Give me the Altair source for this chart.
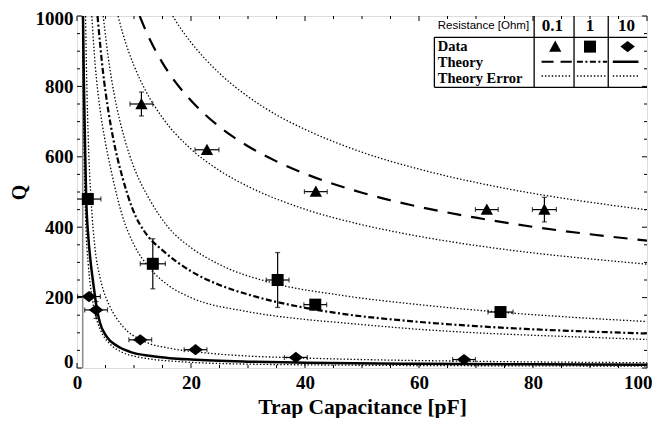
import altair as alt
import pandas as pd

# ---------------- measured data (Resistance 0.1, 1, 10 Ohm) ----------------
r01_c = [11.3, 22.8, 41.9, 71.9, 82.0]
r01_q = [750, 620, 501, 450, 450]
r01_cerr = [2.0, 2.1, 2.0, 2.0, 2.1]
r01_qerr = [34, 4, 4, 4, 35]

r1_c = [1.9, 13.3, 35.2, 41.8, 74.3]
r1_q = [480, 296, 250, 180, 159]
r1_cerr = [2.3, 2.2, 2.0, 2.0, 2.2]
r1_qerr = [4, 71, 78, 4, 4]

r10_c = [2.1, 3.35, 11.1, 20.8, 38.4, 67.9]
r10_q = [203, 165, 80, 52, 30, 24]
r10_cerr = [2.0, 2.0, 2.0, 2.0, 2.0, 2.0]
r10_qerr = [4, 24, 4, 4, 4, 4]

# ---------------- theory curves ----------------
th01_c = [11, 12, 14, 16, 20, 25, 30, 35, 40, 50, 60, 70, 80, 90, 100]
th01_q = [1000, 961, 895, 841, 760, 685, 630, 587, 552, 498, 458, 427, 401, 380, 362]
up01_c = [16.8, 18, 20, 25, 30, 35, 40, 50, 60, 70, 80, 90, 100]
up01_q = [1000, 969, 925, 837, 771, 719, 678, 613, 565, 527, 496, 471, 449]
lo01_c = [7.2, 8, 10, 12, 15, 20, 25, 30, 40, 50, 60, 70, 80, 90, 100]
lo01_q = [1000, 952, 859, 789, 711, 622, 561, 516, 451, 407, 374, 348, 327, 310, 295]

th1_c = [3.6, 4.5, 5.5, 6.4, 8, 9.6, 12.5, 14.6, 20, 25, 30.4, 40, 46.1, 60, 70, 80, 90, 100]
th1_q = [1000, 850, 730, 648, 540, 458, 373, 340, 275, 236, 207, 171, 155, 131, 119, 110, 103.5, 98]
up1_c = [4.6, 5.5, 6.5, 8.4, 10, 12.8, 16, 20, 25, 34.7, 46.1, 60, 74, 87, 100]
up1_q = [1000, 880, 780, 648, 570, 477, 400, 342, 294, 240, 207, 180, 159, 144, 132]
lo1_c = [2.6, 3.2, 4.0, 4.9, 6, 8, 10, 12.8, 16, 20, 30, 40, 46.1, 60, 70, 80, 90, 100]
lo1_q = [1000, 860, 740, 648, 560, 430, 350, 283, 235, 200, 160, 138, 129, 110, 100, 93, 87, 81]

th10_c = [1.05, 1.2, 1.4, 1.6, 2.0, 2.4, 2.86, 3.45, 4.0, 5.2, 7.0, 9.3, 13, 16.3, 20, 30, 40, 60, 80, 100]
th10_q = [1000, 820, 640, 490, 370, 300, 240, 172, 130, 89, 63, 46, 34, 28, 24, 18, 15, 12, 10.5, 9.5]
up10_c = [1.5, 1.7, 2.0, 2.5, 3.16, 4.0, 4.6, 5.8, 8.1, 11.6, 16.3, 20.8, 30, 38.4, 50, 70, 100]
up10_q = [1000, 820, 640, 470, 340, 260, 222, 174, 117, 77, 56, 46, 34, 29, 24, 19, 15]
lo10_c = [1.0, 1.1, 1.25, 1.5, 2.0, 2.5, 2.9, 3.5, 4.5, 5.8, 8, 10.5, 13, 16.3, 20, 30, 40, 60, 80, 100]
lo10_q = [1000, 800, 600, 430, 290, 215, 175, 135, 95, 68, 44, 32, 25, 20, 16, 11, 9, 7, 6, 5.5]

pole_c = [1.0]

# ---------------- axis ticks ----------------
x_major = [0, 20, 40, 60, 80, 100]
x_minor = [v for v in range(5, 100, 5) if v % 20]
y_major = [0, 200, 400, 600, 800, 1000]
y_minor = [v for v in range(50, 1000, 50) if v % 200]

# ---------------- legend table ----------------
leg_cols = ["0.1", "1", "10"]
leg_col_c = [83.4, 90.0, 96.4]
leg_rows = ["Data", "Theory", "Theory Error"]
leg_row_q = [913, 867, 822]

W, H = 570, 352
xs = alt.Scale(domain=[0, 100], nice=False, zero=False)
ys = alt.Scale(domain=[0, 1000], nice=False, zero=False)
SERIF = "Liberation Serif"

XAXIS = alt.Axis(
    values=x_major, title="Trap Capacitance [pF]", ticks=False, domain=False, grid=False,
    labelFont=SERIF, labelFontSize=19, labelFontWeight="bold", labelColor="black",
    labelPadding=5, labelFlush=False, labelOverlap=False, format="d",
    labelAlign={"expr": "datum.value == 100 ? 'right' : 'center'"},
    labelOffset={"expr": "datum.value == 100 ? 5 : 0"},
    titleFont=SERIF, titleFontSize=21.5, titleFontWeight="bold", titleColor="black",
    titlePadding=4)
YAXIS = alt.Axis(
    values=y_major, title="Q", ticks=False, domain=False, grid=False,
    labelFont=SERIF, labelFontSize=19, labelFontWeight="bold", labelColor="black",
    labelPadding=4, labelFlush=False, labelOverlap=False, format="d",
    labelOffset={"expr": "datum.value == 0 ? -7 : (datum.value == 1000 ? 2 : 0)"},
    titleFont=SERIF, titleFontSize=20, titleFontWeight="bold", titleColor="black",
    titlePadding=6)


def XF(f):
    return alt.X(f"{f}:Q", scale=xs, axis=XAXIS)


def YF(f):
    return alt.Y(f"{f}:Q", scale=ys, axis=YAXIS)


def pts(c, q, ce, qe, name):
    return pd.DataFrame({
        "c": c, "q": q,
        "clo": [a - b for a, b in zip(c, ce)], "chi": [a + b for a, b in zip(c, ce)],
        "qlo": [a - b for a, b in zip(q, qe)], "qhi": [a + b for a, b in zip(q, qe)],
        "s": name,
    })


p01 = pts(r01_c, r01_q, r01_cerr, r01_qerr, "0.1")
p1 = pts(r1_c, r1_q, r1_cerr, r1_qerr, "1")
p10 = pts(r10_c, r10_q, r10_cerr, r10_qerr, "10")
allp = pd.concat([p01, p1, p10])


def curve(c, q, name):
    return pd.DataFrame({"c": c, "q": q, "k": name})


dotted_df = pd.concat([curve(up01_c, up01_q, "u01"), curve(lo01_c, lo01_q, "l01"),
                       curve(up1_c, up1_q, "u1"), curve(lo1_c, lo1_q, "l1"),
                       curve(up10_c, up10_q, "u10"), curve(lo10_c, lo10_q, "l10")])

# base layer: pole line + both axes
base = alt.Chart(pd.DataFrame({"c": pole_c, "q1": [0], "q2": [1000]})).mark_rule(
    color="#8a8a8a", strokeWidth=1.5).encode(x=XF("c"), y=YF("q1"), y2="q2:Q")


def tick_layers(vals, length, axis):
    df = pd.DataFrame({"v": vals})
    ch = alt.Chart(df).mark_rule(color="black", strokeWidth=1)
    if axis == "x":
        return [ch.encode(x=XF("v"), y=alt.value(H), y2=alt.value(H - length)),
                ch.encode(x=XF("v"), y=alt.value(0), y2=alt.value(length))]
    return [ch.encode(y=YF("v"), x=alt.value(0), x2=alt.value(length)),
            ch.encode(y=YF("v"), x=alt.value(W), x2=alt.value(W - length))]


ticks = (tick_layers(x_major, 5, "x") + tick_layers(x_minor, 3, "x")
         + tick_layers(y_major, 5, "y") + tick_layers(y_minor, 3, "y"))

dotted = alt.Chart(dotted_df).mark_line(color="black", strokeWidth=1.3, strokeDash=[1.4, 2.0],
                                        clip=True, interpolate="monotone").encode(
    x=XF("c"), y=YF("q"), detail="k:N")
dashed = alt.Chart(curve(th01_c, th01_q, "t01")).mark_line(
    color="black", strokeWidth=2.2, strokeDash=[14, 10], clip=True, interpolate="monotone").encode(
    x=XF("c"), y=YF("q"))
dashdot = alt.Chart(curve(th1_c, th1_q, "t1")).mark_line(
    color="black", strokeWidth=2.2, strokeDash=[6, 2.5, 2, 2.5], clip=True, interpolate="monotone").encode(
    x=XF("c"), y=YF("q"))
solid = alt.Chart(curve(th10_c, th10_q, "t10")).mark_line(
    color="black", strokeWidth=2.5, clip=True, interpolate="monotone").encode(
    x=XF("c"), y=YF("q"))

# error bars
xerr = alt.Chart(allp).mark_rule(color="black", strokeWidth=1.2, clip=True).encode(
    x=XF("clo"), x2="chi:Q", y=YF("q"))
yerr = alt.Chart(allp).mark_rule(color="black", strokeWidth=1.2, clip=True).encode(
    x=XF("c"), y=YF("qlo"), y2="qhi:Q")
xcap_l = alt.Chart(allp).mark_tick(color="black", orient="vertical", size=5, thickness=1.2, clip=True).encode(
    x=XF("clo"), y=YF("q"))
xcap_r = alt.Chart(allp).mark_tick(color="black", orient="vertical", size=5, thickness=1.2, clip=True).encode(
    x=XF("chi"), y=YF("q"))
ycap_l = alt.Chart(allp).mark_tick(color="black", orient="horizontal", size=5, thickness=1.2, clip=True).encode(
    x=XF("c"), y=YF("qlo"))
ycap_h = alt.Chart(allp).mark_tick(color="black", orient="horizontal", size=5, thickness=1.2, clip=True).encode(
    x=XF("c"), y=YF("qhi"))

TRI = "M0,-1L1,0.85L-1,0.85Z"
DIA = "M-1,0L0,-0.78L1,0L0,0.78Z"
m01 = alt.Chart(p01).mark_point(shape=TRI, size=150, filled=True, color="black", opacity=1, clip=True).encode(
    x=XF("c"), y=YF("q"))
m1 = alt.Chart(p1).mark_point(shape="square", size=144, filled=True, color="black", opacity=1, clip=True).encode(
    x=XF("c"), y=YF("q"))
m10 = alt.Chart(p10).mark_point(shape=DIA, size=210, filled=True, color="black", opacity=1, clip=True).encode(
    x=XF("c"), y=YF("q"))

# legend table (placed in data coordinates)
tbl_left, tbl_right = 62.7, 100
row_top, tbl_bottom = 939.5, 797.4
col_lines = [80.2, 87.2, 93.2]
hl = pd.DataFrame({"c1": [tbl_left, tbl_left], "c2": [tbl_right, tbl_right], "q": [row_top, tbl_bottom]})
vl = pd.DataFrame({"c": [tbl_left] + col_lines, "q1": [row_top] + [1000] * 3, "q2": [tbl_bottom] * 4})
leg_h = alt.Chart(hl).mark_rule(color="black", strokeWidth=1.3).encode(x=XF("c1"), x2="c2:Q", y=YF("q"))
leg_v = alt.Chart(vl).mark_rule(color="black", strokeWidth=1.3).encode(x=XF("c"), y=YF("q1"), y2="q2:Q")

hdr = alt.Chart(pd.DataFrame({"c": [71.3], "q": [971.6], "t": ["Resistance [Ohm]"]})).mark_text(
    font="Liberation Sans", fontSize=11.5, color="black", align="center", baseline="middle").encode(
    x=XF("c"), y=YF("q"), text="t:N")
colhdr = alt.Chart(pd.DataFrame({"c": leg_col_c, "q": [972] * 3, "t": leg_cols})).mark_text(
    font=SERIF, fontSize=17, fontWeight="bold", color="black", align="center", baseline="middle").encode(
    x=XF("c"), y=YF("q"), text="t:N")
rowhdr = alt.Chart(pd.DataFrame({"c": [63.3] * 3, "q": leg_row_q, "t": leg_rows})).mark_text(
    font=SERIF, fontSize=14.5, fontWeight="bold", color="black", align="left", baseline="middle").encode(
    x=XF("c"), y=YF("q"), text="t:N")

sym_c = [83.9, 90.0, 96.6]
lg_tri = alt.Chart(pd.DataFrame({"c": [sym_c[0]], "q": [913]})).mark_point(
    shape=TRI, size=150, filled=True, color="black", opacity=1).encode(x=XF("c"), y=YF("q"))
lg_sq = alt.Chart(pd.DataFrame({"c": [sym_c[1]], "q": [913]})).mark_point(
    shape="square", size=144, filled=True, color="black", opacity=1).encode(x=XF("c"), y=YF("q"))
lg_dia = alt.Chart(pd.DataFrame({"c": [sym_c[2]], "q": [913]})).mark_point(
    shape=DIA, size=210, filled=True, color="black", opacity=1).encode(x=XF("c"), y=YF("q"))

seg_lo = [81.5, 87.7, 94.0]
seg_hi = [86.8, 93.0, 98.5]


def seg(i, q, **kw):
    return alt.Chart(pd.DataFrame({"c": [seg_lo[i], seg_hi[i]], "q": [q, q]})).mark_line(
        color="black", **kw).encode(x=XF("c"), y=YF("q"))


lg_lines = [seg(0, 870, strokeWidth=2.2, strokeDash=[12, 7]),
            seg(1, 870, strokeWidth=2.2, strokeDash=[6, 2.5, 2, 2.5]),
            seg(2, 870, strokeWidth=2.5)]
lg_dots = [seg(i, 829.5, strokeWidth=1.3, strokeDash=[1.4, 2.0]) for i in range(3)]

chart = alt.layer(
    base, *ticks, dotted, dashed, dashdot, solid,
    xerr, yerr, xcap_l, xcap_r, ycap_l, ycap_h, m01, m1, m10,
    leg_h, leg_v, hdr, colhdr, rowhdr, lg_tri, lg_sq, lg_dia, *lg_lines, *lg_dots,
).properties(
    width=W, height=H,
    autosize=alt.AutoSizeParams(type="none"),
    padding={"left": 69, "top": 8, "right": 5, "bottom": 50},
).configure_view(stroke="black", strokeWidth=1.6).configure(background="white")

chart.save("out.html", embed_options={"renderer": "svg", "actions": False})
